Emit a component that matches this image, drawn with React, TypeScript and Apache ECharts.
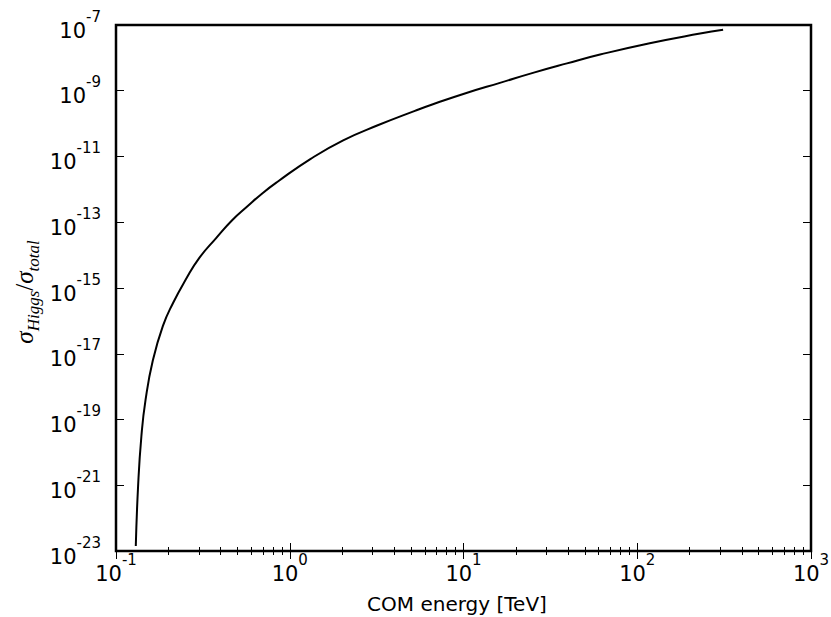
import React, { useEffect, useRef } from "react";
import * as echarts from "echarts";

// COM energy in TeV
const energyTeV = [
  0.13, 0.134, 0.14, 0.148, 0.163, 0.186, 0.213, 0.252, 0.301, 0.377, 0.466,
  0.569, 0.7, 0.855, 1.32, 2.03, 3.21, 5.25, 6.67, 10.5, 16.2, 25.1, 39.4,
  61.1, 118, 230, 312,
];
// sigma_Higgs / sigma_total
const ratio = [
  1.41e-23, 9.3e-22, 3.1e-20, 4.0e-19, 6.3e-18, 6.9e-17, 3.5e-16, 1.8e-15,
  8.1e-15, 3.3e-14, 1.15e-13, 3.0e-13, 7.8e-13, 1.74e-12, 8.5e-12, 3.1e-11,
  8.9e-11, 2.45e-10, 3.9e-10, 8.7e-10, 1.74e-9, 3.5e-9, 6.8e-9, 1.26e-8,
  2.8e-8, 5.5e-8, 7.2e-8,
];
const xTickValues = [0.1, 1, 10, 100, 1000];
const yTickValues = [1e-23, 1e-21, 1e-19, 1e-17, 1e-15, 1e-13, 1e-11, 1e-9, 1e-7];

const FONT = "DejaVu Sans";

const powLabel = (v: number) => {
  const e = Math.round(Math.log10(v));
  return `{b|10}{s|${e}}`;
};

const labelRich = {
  b: { fontSize: 21, fontFamily: FONT, color: "#000", verticalAlign: "bottom", lineHeight: 32 },
  s: { fontSize: 15, fontFamily: FONT, color: "#000", verticalAlign: "top", lineHeight: 32 },
};

export default function App() {
  const ref = useRef<HTMLDivElement>(null);
  useEffect(() => {
    document.body.style.margin = "0";
    if (!ref.current) return;
    const chart = echarts.init(ref.current, undefined, { renderer: "svg" });
    const tickStyle = { color: "#000", width: 1 };
    const xCommon = {
      type: "log",
      logBase: 10,
      min: 0.1,
      max: 1000,
      axisLine: { show: false },
      splitLine: { show: false },
      axisTick: { show: true, inside: true, length: 8, lineStyle: tickStyle, customValues: xTickValues },
      minorTick: { show: true, splitNumber: 9, length: 4, lineStyle: tickStyle },
      minorSplitLine: { show: false },
    };
    const yCommon = {
      type: "log",
      logBase: 10,
      min: 1e-23,
      max: 1e-7,
      axisLine: { show: false },
      splitLine: { show: false },
      axisTick: { show: true, inside: true, length: 8, lineStyle: tickStyle, customValues: yTickValues },
    };
    chart.setOption({
      animation: false,
      backgroundColor: "#fff",
      grid: {
        left: 116,
        right: 20,
        top: 25,
        bottom: 66,
        show: true,
        borderColor: "#000",
        borderWidth: 2.5,
        backgroundColor: "transparent",
        outerBoundsMode: "none",
      },
      xAxis: [
        {
          ...xCommon,
          position: "bottom",
          axisLabel: {
            show: true,
            margin: 1,
            customValues: xTickValues,
            formatter: powLabel,
            rich: labelRich,
          },
        },
        {
          ...xCommon,
          position: "top",
          axisLabel: { show: false },
        },
      ],
      yAxis: [
        {
          ...yCommon,
          position: "left",
          axisLabel: {
            show: true,
            margin: 15,
            customValues: yTickValues,
            formatter: powLabel,
            rich: labelRich,
          },
        },
        {
          ...yCommon,
          position: "right",
          axisLabel: { show: false },
        },
      ],
      graphic: [
        {
          type: "text",
          x: 457,
          y: 604,
          style: {
            text: "COM energy [TeV]",
            fontSize: 20,
            fontFamily: FONT,
            fill: "#000",
            align: "center",
            verticalAlign: "middle",
          },
        },
        {
          type: "text",
          x: 27,
          y: 292,
          rotation: Math.PI / 2,
          style: {
            text: "{m|σ}{sub|Higgs}{n|/}{m|σ}{sub|total}",
            align: "center",
            verticalAlign: "middle",
            fill: "#000",
            rich: {
              m: { fontSize: 25, fontFamily: "Liberation Serif", fontStyle: "italic", verticalAlign: "top", lineHeight: 30, fill: "#000" },
              n: { fontSize: 25, fontFamily: "Liberation Serif", verticalAlign: "top", lineHeight: 30, fill: "#000" },
              sub: { fontSize: 17, fontFamily: "Liberation Serif", fontStyle: "italic", verticalAlign: "bottom", lineHeight: 30, fill: "#000" },
            },
          },
        },
      ],
      series: [
        {
          type: "line",
          xAxisIndex: 0,
          yAxisIndex: 0,
          data: energyTeV.map((e, i) => [e, ratio[i]]),
          showSymbol: false,
          symbol: "none",
          smooth: 0.5,
          lineStyle: { color: "#000", width: 2 },
        },
      ],
    });
    return () => chart.dispose();
  }, []);
  return (
    <div
      ref={ref}
      style={{ position: "absolute", left: 0, top: 0, width: 831, height: 617 }}
    />
  );
}
